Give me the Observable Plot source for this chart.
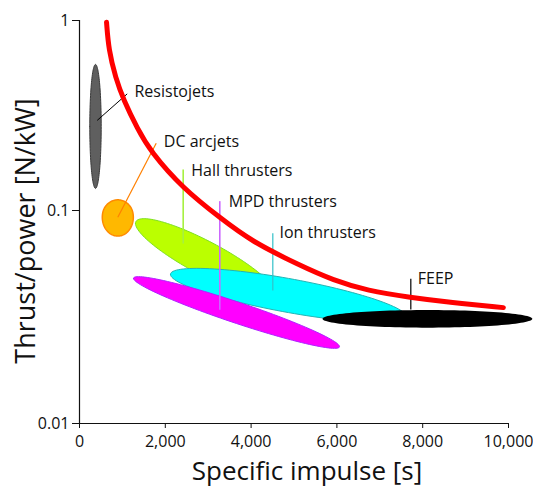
<!DOCTYPE html>
<html>
<head>
<meta charset="utf-8">
<script src="https://cdn.jsdelivr.net/npm/d3@7"></script>
<script src="https://cdn.jsdelivr.net/npm/@observablehq/plot@0.6"></script>
<style>
  body { margin: 0; background: #fff; }
  svg { display: block; }
</style>
</head>
<body>
<div id="chart"></div>
<script>
// Electric propulsion families, in drawing order (later ones sit on top)
const thrusters = ["Resistojets", "DC arcjets", "Hall thrusters", "Ion thrusters", "MPD thrusters", "FEEP"];

// Operating region of each family: centre, leftmost point, and the outline point straight above the centre
const centreIsp = [373, 893, 2940, 4870, 3660, 8110];          // s
const centreTp  = [0.277, 0.0929, 0.0595, 0.0399, 0.0332, 0.031]; // N/kW
const leftIsp   = [240, 531, 1305, 2121, 1259, 5664];
const leftTp    = [0.277, 0.0929, 0.0869, 0.0501, 0.048, 0.031];
const upperTp   = [0.587, 0.1138, 0.0731, 0.048, 0.0374, 0.0341];

// Leader lines from each region to its label
const leaderIsp1 = [413, 893, 2417, 4506, 3270, 7723];
const leaderTp1  = [0.298, 0.0929, 0.070, 0.0421, 0.0342, 0.0343];
const leaderIsp2 = [1112, 1788, 2417, 4506, 3270, 7723];
const leaderTp2  = [0.411, 0.226, 0.1643, 0.0782, 0.112, 0.0478];

// Label anchors (left end of each label)
const labelIsp = [1282, 1965, 2604, 4662, 3480, 7886];
const labelTp  = [0.420, 0.230, 0.1614, 0.0782, 0.1105, 0.0475];

// Upper bound of thrust per unit power
const curveIsp = [630, 680, 840, 1030, 1350, 1650, 2420, 3290, 3990, 5150, 5920, 6710, 7720, 8650, 9880];
const curveTp  = [0.98, 0.70, 0.50, 0.38, 0.27, 0.205, 0.13, 0.092, 0.072, 0.055, 0.047, 0.042, 0.039, 0.037, 0.035];

const xTicks = [0, 2000, 4000, 6000, 8000, 10000];
const yTicks = [0.01, 0.1, 1];

const FONT = "'Open Sans', 'DejaVu Sans', sans-serif";

const regionStyle = {
  "Resistojets":    {fill: "#5f5f5f", stroke: "#3a3a3a", strokeWidth: 1},
  "DC arcjets":     {fill: "#ffb800", stroke: "#ff8a00", strokeWidth: 1.5},
  "Hall thrusters": {fill: "#bbff00", stroke: "#7ee020", strokeWidth: 1},
  "Ion thrusters":  {fill: "#00ffff", stroke: "#22b4b4", strokeWidth: 1},
  "MPD thrusters":  {fill: "#ff00ff", stroke: "#b020ff", strokeWidth: 1},
  "FEEP":           {fill: "#000000", stroke: "none", strokeWidth: 0}
};
const leaderStyle = {
  "Resistojets":    {stroke: "#000000", strokeWidth: 1},
  "DC arcjets":     {stroke: "#ff8000", strokeWidth: 1.2},
  "Hall thrusters": {stroke: "#a6f040", strokeWidth: 1.6},
  "Ion thrusters":  {stroke: "#33c0c8", strokeWidth: 1.2},
  "MPD thrusters":  {stroke: "#cc66ff", strokeWidth: 1.6},
  "FEEP":           {stroke: "#000000", strokeWidth: 1.2}
};

// Outline of a region: an ellipse in (Isp, log thrust/power) space
function outline(i, n = 120) {
  const cx = centreIsp[i], cl = Math.log10(centreTp[i]);
  const ax = leftIsp[i] - cx, al = Math.log10(leftTp[i]) - cl;
  const bl = Math.log10(upperTp[i]) - cl;
  return d3.range(n + 1).map(k => {
    const t = 2 * Math.PI * k / n;
    return {isp: cx + ax * Math.cos(t), tp: Math.pow(10, cl + al * Math.cos(t) + bl * Math.sin(t))};
  });
}

const idx = d3.range(thrusters.length);
const curve = curveIsp.map((x, i) => ({isp: x, tp: curveTp[i]}));

const marks = [];
idx.forEach(i => {
  const s = regionStyle[thrusters[i]];
  marks.push(Plot.line(outline(i), {x: "isp", y: "tp", fill: s.fill, stroke: s.stroke, strokeWidth: s.strokeWidth}));
});
idx.forEach(i => {
  const s = leaderStyle[thrusters[i]];
  marks.push(Plot.link([i], {
    x1: d => leaderIsp1[d], y1: d => leaderTp1[d],
    x2: d => leaderIsp2[d], y2: d => leaderTp2[d],
    stroke: s.stroke, strokeWidth: s.strokeWidth
  }));
});
marks.push(
  Plot.line(curve, {x: "isp", y: "tp", stroke: "#ff0000", strokeWidth: 5, strokeLinecap: "round", curve: "basis"}),
  Plot.text(idx, {
    x: d => labelIsp[d], y: d => labelTp[d], text: d => thrusters[d],
    textAnchor: "start", fontSize: 16, fill: "#111"
  }),
  Plot.ruleX([0], {y1: 0.01, y2: 1, stroke: "#111", strokeWidth: 1.2}),
  Plot.ruleY([0.01], {x1: 0, x2: 10000, stroke: "#111", strokeWidth: 1.2}),
  Plot.axisX({ticks: xTicks, tickFormat: d3.format(","), tickSize: 5, tickPadding: 7, fontSize: 16, label: null, color: "#111"}),
  Plot.axisY({ticks: yTicks, tickFormat: d => String(d), tickSize: 7, tickPadding: 3, fontSize: 16, label: null, color: "#111"}),
  Plot.text(["Specific impulse [s]"], {frameAnchor: "bottom", textAnchor: "middle", lineAnchor: "bottom", dx: 13, dy: 56, fontSize: 26, fill: "#111"}),
  Plot.text(["Thrust/power [N/kW]"], {frameAnchor: "left", textAnchor: "middle", lineAnchor: "middle", rotate: -90, dx: -53, dy: 9, fontSize: 27, fill: "#111"})
);

const chart = Plot.plot({
  width: 533,
  height: 488,
  marginLeft: 79,
  marginRight: 25,
  marginTop: 20,
  marginBottom: 65,
  style: {fontFamily: FONT, background: "#fff", overflow: "visible"},
  x: {domain: [0, 10000]},
  y: {type: "log", domain: [0.01, 0.1, 1], range: [423, 210, 20]},
  marks
});
document.getElementById("chart").appendChild(chart);
</script>
</body>
</html>
